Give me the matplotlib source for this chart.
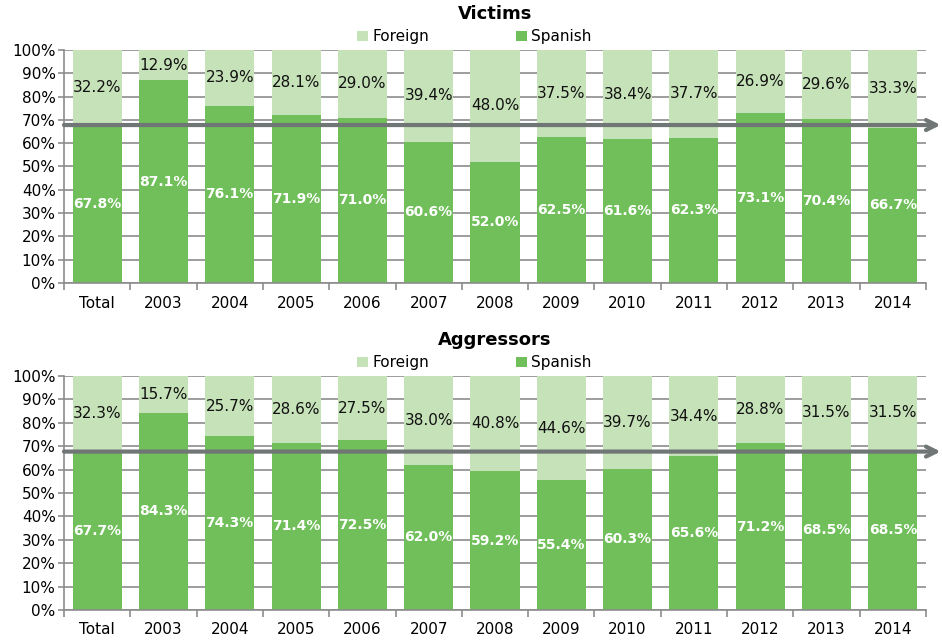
import numpy as np
import matplotlib
matplotlib.use("Agg")
import matplotlib.pyplot as plt

plt.rcParams['font.family'] = ['DejaVu Sans']

# ---------------------------------------------------------------------------
# Data
# ---------------------------------------------------------------------------
categories = ['Total', '2003', '2004', '2005', '2006', '2007', '2008',
              '2009', '2010', '2011', '2012', '2013', '2014']

victims_spanish = [67.8, 87.1, 76.1, 71.9, 71.0, 60.6, 52.0, 62.5, 61.6, 62.3, 73.1, 70.4, 66.7]
victims_foreign = [32.2, 12.9, 23.9, 28.1, 29.0, 39.4, 48.0, 37.5, 38.4, 37.7, 26.9, 29.6, 33.3]

aggr_spanish = [67.7, 84.3, 74.3, 71.4, 72.5, 62.0, 59.2, 55.4, 60.3, 65.6, 71.2, 68.5, 68.5]
aggr_foreign = [32.3, 15.7, 25.7, 28.6, 27.5, 38.0, 40.8, 44.6, 39.7, 34.4, 28.8, 31.5, 31.5]

victims_ref = victims_spanish[0]
aggr_ref = aggr_spanish[0]

DARK = '#70BF5A'
LIGHT = '#C6E2B8'
GRID = '#8C8C8C'
ARROW = '#707575'

fig = plt.figure(figsize=(9.42, 6.41), dpi=100)
ax_top = fig.add_axes([0.0679, 0.5585, 0.9151, 0.3635])
ax_bot = fig.add_axes([0.0679, 0.0484, 0.9151, 0.3650])


def draw_panel(ax, title, spanish, foreign, ref):
    x = np.arange(len(categories))
    sp = np.array(spanish)
    fo = np.array(foreign)
    ax.bar(x, sp, width=0.74, color=DARK, label='Spanish', zorder=2)
    ax.bar(x, fo, width=0.74, bottom=sp, color=LIGHT, label='Foreign', zorder=2)

    for xi, s, f in zip(x, sp, fo):
        ax.text(xi, s / 2, f'{s:.1f}%', ha='center', va='center',
                color='white', fontweight='bold', fontsize=10, zorder=4)
        ax.text(xi, s + f / 2, f'{f:.1f}%', ha='center', va='center',
                color='#111111', fontsize=11, zorder=4)

    ax.set_xlim(-0.5, len(categories) - 0.5)
    ax.set_ylim(0, 100)
    ax.set_yticks(np.arange(0, 101, 10))
    ax.set_yticklabels([f'{v}%' for v in range(0, 101, 10)], fontsize=11)
    ax.set_xticks(x)
    ax.set_xticklabels(categories, fontsize=11)
    ax.set_xticks(np.arange(-0.5, len(categories) + 0.5, 1), minor=True)
    ax.tick_params(axis='x', which='major', length=0, pad=9)
    ax.tick_params(axis='x', which='minor', length=5, color=GRID, width=1.2)
    ax.tick_params(axis='y', length=4, color=GRID, width=1.2, pad=2)
    ax.grid(axis='y', color=GRID, linewidth=1.2, zorder=0)
    ax.set_axisbelow(True)
    for side in ['top', 'right']:
        ax.spines[side].set_visible(False)
    for side in ['left', 'bottom']:
        ax.spines[side].set_color(GRID)
        ax.spines[side].set_linewidth(1.2)

    # reference arrow at the "Total" level
    ax.annotate('', xy=(1.017, ref), xycoords=('axes fraction', 'data'),
                xytext=(0.0, ref), textcoords=('axes fraction', 'data'),
                arrowprops=dict(arrowstyle='->', color=ARROW, lw=3,
                                mutation_scale=18, shrinkA=0, shrinkB=0),
                annotation_clip=False, zorder=5)

    handles, labels = ax.get_legend_handles_labels()
    ax.legend(handles[::-1], labels[::-1], loc='lower center',
              bbox_to_anchor=(0.476, 0.985), ncol=2, frameon=False,
              fontsize=11, handlelength=0.7, handleheight=0.7,
              handletextpad=0.3, columnspacing=5.7, borderpad=0.1)
    ax.set_title(title, fontsize=13, fontweight='bold', pad=22)


draw_panel(ax_top, 'Victims', victims_spanish, victims_foreign, victims_ref)
draw_panel(ax_bot, 'Aggressors', aggr_spanish, aggr_foreign, aggr_ref)

fig.savefig('out.png', dpi=100)
